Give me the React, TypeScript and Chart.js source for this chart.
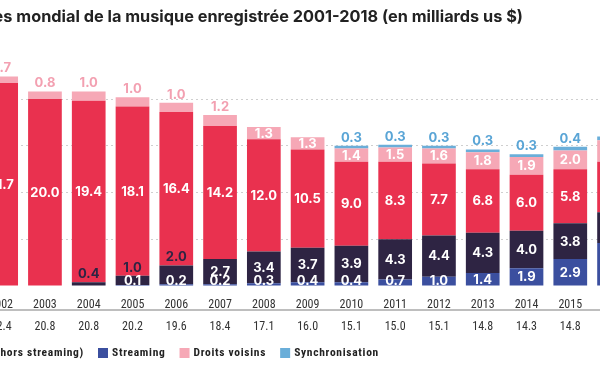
import React, { useEffect, useRef } from "react";
import { Chart, registerables } from "chart.js";

Chart.register(...registerables);

const years = ["2001", "2002", "2003", "2004", "2005", "2006", "2007", "2008", "2009", "2010", "2011", "2012", "2013", "2014", "2015", "2016", "2017", "2018"];
const streaming = [0, 0, 0, 0, 0.1, 0.2, 0.2, 0.3, 0.4, 0.4, 0.7, 1.0, 1.4, 1.9, 2.9, 4.6, 6.6, 8.9];
const numerique = [0, 0, 0, 0.4, 1.0, 2.0, 2.7, 3.4, 3.7, 3.9, 4.3, 4.4, 4.3, 4.0, 3.8, 3.3, 2.4, 1.5];
const physique = [23.0, 21.7, 20.0, 19.4, 18.1, 16.4, 14.2, 12.0, 10.5, 9.0, 8.3, 7.7, 6.8, 6.0, 5.8, 5.4, 5.2, 4.7];
const droitsVoisins = [0.6, 0.7, 0.8, 1.0, 1.0, 1.0, 1.2, 1.3, 1.3, 1.4, 1.5, 1.6, 1.8, 1.9, 2.0, 2.3, 2.4, 2.7];
const synchronisation = [0, 0, 0, 0, 0, 0, 0, 0, 0, 0.3, 0.3, 0.3, 0.3, 0.3, 0.4, 0.4, 0.4, 0.4];
const totals = ["23.6", "22.4", "20.8", "20.8", "20.2", "19.6", "18.4", "17.1", "16.0", "15.1", "15.0", "15.1", "14.8", "14.3", "14.8", "16.0", "17.0", "18.2"];

const title = "Chiffre d’affaires mondial de la musique enregistrée 2001-2018 (en milliards us $)";
const legendLabels = ["Physique", "Numérique (hors streaming)", "Streaming", "Droits voisins", "Synchronisation"];

const COLORS = {
  streaming: "#3b4f9f",
  numerique: "#2e2443",
  physique: "#e9314f",
  droits: "#f6a8b6",
  sync: "#6aaed9",
};
const legendColors = [COLORS.physique, COLORS.numerique, COLORS.streaming, COLORS.droits, COLORS.sync];

// label rules per dataset (stack order: streaming, numerique, physique, droits, sync)
const labelRules = [
  { minInside: 0, bottomCap: 5, aboveColor: "#3b4f9f", clip: true },
  { minInside: 2.5, bottomCap: 0, aboveColor: "#2e2443", clip: false },
  { minInside: 0, bottomCap: 0, aboveColor: "#e9314f", clip: false },
  { minInside: 1.25, bottomCap: 0, aboveColor: "#f3a0b1", clip: false },
  { minInside: 99, bottomCap: 0, aboveColor: "#5aa5d6", clip: false },
];

const SHIFT = 80; // canvas is shifted left (the picture is a crop)
const CW = 820;
const CH = 372;

const SANS = "Inter, Roboto, 'Noto Sans', sans-serif";
const NARROW = "'Liberation Sans Narrow', 'Roboto Condensed', Roboto, sans-serif";

const overlay = {
  id: "overlay",
  afterDatasetsDraw(chart: any) {
    const ctx = chart.ctx as CanvasRenderingContext2D;
    const area = chart.chartArea;
    ctx.save();
    ctx.font = `bold 13px ${SANS}`;
    ctx.textAlign = "center";
    ctx.textBaseline = "middle";
    chart.data.datasets.forEach((ds: any, di: number) => {
      const meta = chart.getDatasetMeta(di);
      const rule = labelRules[di];
      meta.data.forEach((bar: any, j: number) => {
        const v = ds.data[j];
        if (!v) return;
        const p = bar.getProps(["x", "y", "base"], true);
        const txt = v.toFixed(1);
        if (v >= rule.minInside) {
          let cy = (p.y + p.base) / 2;
          if (rule.bottomCap) cy = Math.min(cy, p.base - rule.bottomCap);
          ctx.save();
          if (rule.clip) {
            ctx.beginPath();
            ctx.rect(area.left, area.top - 100, area.right - area.left, area.bottom - area.top + 100);
            ctx.clip();
          }
          ctx.fillStyle = "#ffffff";
          ctx.fillText(txt, p.x, cy + 0.5);
          ctx.restore();
        } else {
          ctx.fillStyle = rule.aboveColor;
          ctx.fillText(txt, p.x, p.y - 8);
        }
      });
    });
    ctx.restore();
  },
  afterDraw(chart: any) {
    const ctx = chart.ctx as CanvasRenderingContext2D;
    const xs = chart.scales.x;
    ctx.save();
    // title
    ctx.font = `bold 16.3px ${SANS}`;
    ctx.fillStyle = "#222222";
    ctx.textAlign = "right";
    ctx.textBaseline = "middle";
    ctx.fillText(title, SHIFT + 523, 17);
    // separator line
    ctx.strokeStyle = "#a8a8a8";
    ctx.lineWidth = 1.5;
    ctx.beginPath();
    ctx.moveTo(0, 310);
    ctx.lineTo(chart.width, 310);
    ctx.stroke();
    // totals
    ctx.font = `12px ${NARROW}`;
    ctx.fillStyle = "#333333";
    ctx.textAlign = "center";
    totals.forEach((t, i) => {
      ctx.fillText(t, xs.getPixelForValue(i), 326.5);
    });
    // legend
    ctx.font = `bold 11.5px ${NARROW}`;
    (ctx as any).letterSpacing = "0.7px";
    ctx.textAlign = "left";
    const sq = 10, g1 = 4, g2 = 14;
    const widths = legendLabels.map((l) => ctx.measureText(l).width);
    const xsq: number[] = [];
    xsq[2] = SHIFT + 98;
    for (let i = 3; i < legendLabels.length; i++) xsq[i] = xsq[i - 1] + sq + g1 + widths[i - 1] + g2;
    for (let i = 1; i >= 0; i--) xsq[i] = xsq[i + 1] - g2 - widths[i] - g1 - sq;
    legendLabels.forEach((l, i) => {
      ctx.fillStyle = legendColors[i];
      ctx.fillRect(xsq[i], 348, sq, sq);
      ctx.fillStyle = "#222222";
      ctx.fillText(l, xsq[i] + sq + g1, 353.5);
    });
    ctx.restore();
  },
};

export default function App() {
  const ref = useRef<HTMLCanvasElement | null>(null);
  useEffect(() => {
    if (!ref.current) return;
    const mk = (label: string, data: number[], color: string) => ({
      label,
      data,
      backgroundColor: color,
      borderWidth: 0,
      barPercentage: 0.77,
      categoryPercentage: 1,
    });
    const chart = new Chart(ref.current, {
      type: "bar",
      data: {
        labels: years,
        datasets: [
          mk("Streaming", streaming, COLORS.streaming),
          mk("Numérique (hors streaming)", numerique, COLORS.numerique),
          mk("Physique", physique, COLORS.physique),
          mk("Droits voisins", droitsVoisins, COLORS.droits),
          mk("Synchronisation", synchronisation, COLORS.sync),
        ],
      },
      options: {
        animation: false,
        responsive: true,
        maintainAspectRatio: false,
        layout: { padding: { left: 15.5, right: CW - 803.5, top: 61.6, bottom: 60 } },
        plugins: { legend: { display: false }, tooltip: { enabled: false }, title: { display: false } },
        scales: {
          x: {
            stacked: true,
            grid: { display: false },
            border: { display: false },
            ticks: { color: "#333333", font: { size: 12, family: NARROW }, padding: 4, maxRotation: 0, autoSkip: false },
            afterFit: (s: any) => { s.height = 26; },
          },
          y: {
            stacked: true,
            min: 0,
            max: 24,
            ticks: { display: false, stepSize: 5 },
            grid: {
              drawTicks: false,
              color: (c: any) => (c.tick && c.tick.value > 0 && c.tick.value % 5 === 0 ? "#cfcfcf" : "rgba(0,0,0,0)"),
              lineWidth: 1,
            },
            border: { display: false, dash: [2, 3] },
            afterFit: (s: any) => { s.width = 0; },
          },
        },
      },
      plugins: [overlay],
    });
    return () => chart.destroy();
  }, []);
  return (
    <div style={{ position: "fixed", left: 0, top: 0, width: 600, height: CH, overflow: "hidden", background: "#fff" }}>
      <div style={{ position: "absolute", left: -SHIFT, top: 0, width: CW, height: CH }}>
        <canvas ref={ref} />
      </div>
    </div>
  );
}
